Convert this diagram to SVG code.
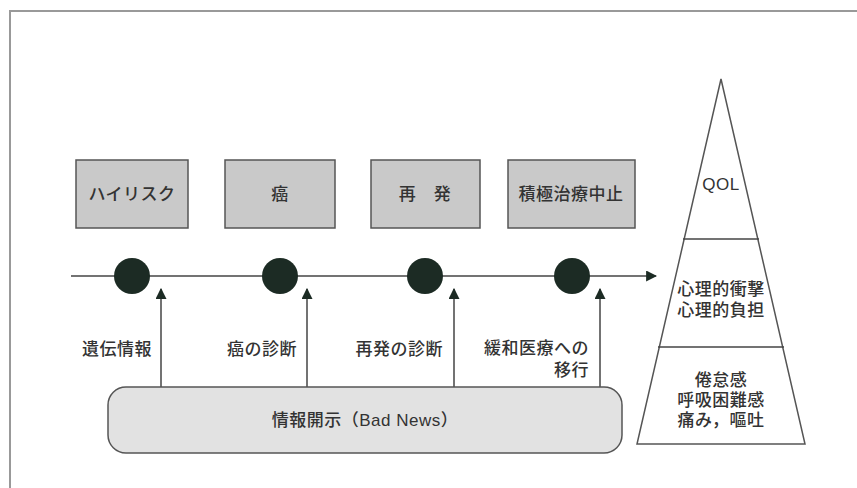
<svg xmlns="http://www.w3.org/2000/svg" width="857" height="488" viewBox="0 0 857 488">
<style>
  text { font-family: "Liberation Sans", "Noto Sans CJK JP", sans-serif; font-size: 17px; font-weight: 500; fill: #333; letter-spacing: 0.5px; }
  .c { text-anchor: middle; }
  .r { text-anchor: end; }
  .box { fill: #c9c9c9; stroke: #555; stroke-width: 1.5; }
  .dot { fill: #1c2b24; }
  .ln { stroke: #444; stroke-width: 1.5; fill: none; }
  .py { stroke: #555; stroke-width: 1.5; fill: #fff; }
</style>
<defs>
  <marker id="ah" viewBox="0 0 10 10" refX="9" refY="5" markerWidth="11" markerHeight="11" markerUnits="userSpaceOnUse" orient="auto">
    <path d="M0,0 L10,5 L0,10 Z" fill="#1c2b24"/>
  </marker>
</defs>
<rect x="0" y="0" width="857" height="488" fill="#fff"/>
<path d="M10,488 L10,11 L857,11" fill="none" stroke="#999" stroke-width="2"/>

<g id="connectors">
  <line class="ln" x1="71" y1="276" x2="656" y2="276" marker-end="url(#ah)"/>
  <line class="ln" x1="161" y1="388" x2="161" y2="289" marker-end="url(#ah)"/>
  <line class="ln" x1="307" y1="388" x2="307" y2="289" marker-end="url(#ah)"/>
  <line class="ln" x1="454" y1="388" x2="454" y2="289" marker-end="url(#ah)"/>
  <line class="ln" x1="600" y1="388" x2="600" y2="289" marker-end="url(#ah)"/>
</g>

<g id="box-highrisk"><rect class="box" x="76" y="160" width="112" height="68"/><text class="c" x="132" y="200">ハイリスク</text></g>
<g id="box-cancer"><rect class="box" x="225" y="160" width="110" height="68"/><text class="c" x="280" y="200">癌</text></g>
<g id="box-relapse"><rect class="box" x="371" y="160" width="109" height="68"/><text class="c" x="425" y="200">再　発</text></g>
<g id="box-stop"><rect class="box" x="508" y="160" width="127" height="68"/><text class="c" x="571" y="200">積極治療中止</text></g>

<g id="dot1"><circle class="dot" cx="132" cy="276" r="18"/></g>
<g id="dot2"><circle class="dot" cx="280" cy="276" r="18"/></g>
<g id="dot3"><circle class="dot" cx="425" cy="276" r="18"/></g>
<g id="dot4"><circle class="dot" cx="572" cy="276" r="18"/></g>

<g id="lbl1"><text class="r" x="152" y="355">遺伝情報</text></g>
<g id="lbl2"><text class="r" x="297" y="355">癌の診断</text></g>
<g id="lbl3"><text class="r" x="443" y="355">再発の診断</text></g>
<g id="lbl4"><text class="r" x="589" y="354">緩和医療への</text><text class="r" x="589" y="376">移行</text></g>

<g id="disclosure"><rect x="108" y="387" width="514" height="66" rx="18" ry="18" fill="#e2e2e2" stroke="#555" stroke-width="1.5"/><text class="c" x="365" y="426">情報開示（Bad News）</text></g>

<g id="pyramid">
  <polygon class="py" points="721,79 805,444 637,444"/>
  <line class="ln" x1="683" y1="239" x2="759" y2="239"/>
  <line class="ln" x1="658" y1="347" x2="784" y2="347"/>
  <text class="c" x="721" y="190">QOL</text>
  <text class="c" x="721" y="295">心理的衝撃</text>
  <text class="c" x="721" y="316">心理的負担</text>
  <text class="c" x="721" y="386">倦怠感</text>
  <text class="c" x="721" y="406">呼吸困難感</text>
  <text class="c" x="721" y="426">痛み，嘔吐</text>
</g>
</svg>
